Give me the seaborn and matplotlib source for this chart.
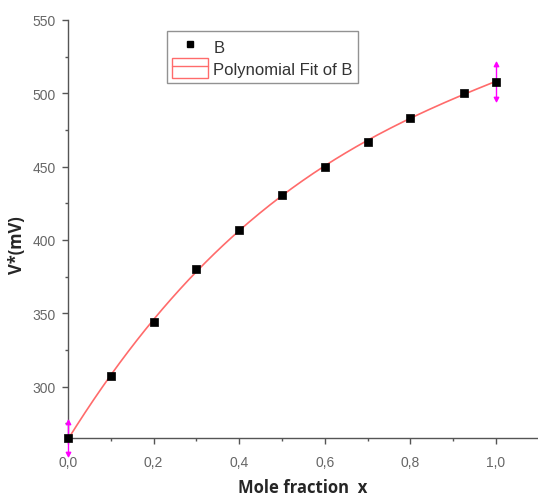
import matplotlib
matplotlib.use("Agg")
import matplotlib.pyplot as plt
import numpy as np
import pandas as pd
import seaborn as sns
from matplotlib.lines import Line2D
from matplotlib.patches import Patch
from matplotlib.ticker import MultipleLocator, FuncFormatter

# data
mole_fraction = [0.0, 0.1, 0.2, 0.3, 0.4, 0.5, 0.6, 0.7, 0.8, 0.925, 1.0]
potential_mv = [265, 307, 344, 380, 407, 431, 450, 467, 483, 500, 508]
err_x = [0.0, 1.0]
err_y = [265, 508]
err_half = [11, 12]

sns.set_theme(style="white")
plt.rcParams["font.family"] = ["Liberation Sans", "DejaVu Sans"]

df = pd.DataFrame({"x": mole_fraction, "V": potential_mv})

# polynomial fit of B
coef = np.polyfit(df["x"], df["V"], 3)
fit_x = np.linspace(0, 1, 200)
fit_df = pd.DataFrame({"x": fit_x, "V": np.polyval(coef, fit_x)})

fig = plt.figure(figsize=(5.38, 5.02), dpi=100)
ax = fig.add_axes([68 / 538, 63 / 502, 470 / 538, 418 / 502])

red = "#ff6b6b"
sns.lineplot(data=fit_df, x="x", y="V", ax=ax, color=red, lw=1.2, zorder=2)
sns.scatterplot(data=df, x="x", y="V", ax=ax, marker="s", s=34, color="black",
                edgecolor="black", linewidth=0.5, zorder=4, clip_on=False)

# magenta error bars with arrow heads
ax.errorbar(err_x, err_y, yerr=err_half, fmt="none", ecolor="magenta", elinewidth=1,
            capsize=0, zorder=3, clip_on=False)
ax.scatter(err_x, np.array(err_y) + np.array(err_half), marker="^", s=10, color="magenta",
           zorder=3, clip_on=False)
ax.scatter(err_x, np.array(err_y) - np.array(err_half), marker="v", s=10, color="magenta",
           zorder=3, clip_on=False)

ax.set_xlim(0, 1.098)
ax.set_ylim(265, 550)

gray = "#555555"
for side in ["top", "right"]:
    ax.spines[side].set_visible(False)
for side in ["left", "bottom"]:
    ax.spines[side].set_color(gray)
    ax.spines[side].set_linewidth(1.0)

ax.xaxis.set_major_locator(MultipleLocator(0.2))
ax.xaxis.set_minor_locator(MultipleLocator(0.1))
ax.yaxis.set_major_locator(MultipleLocator(50))
ax.yaxis.set_minor_locator(MultipleLocator(25))
ax.xaxis.set_major_formatter(FuncFormatter(lambda v, p: f"{v:.1f}".replace(".", ",")))
ax.tick_params(which="major", direction="out", length=4, width=1, color=gray,
               labelsize=10, labelcolor="#666666", bottom=True, left=True)
ax.tick_params(axis="x", which="major", pad=8)
ax.tick_params(axis="y", which="major", pad=5)
ax.tick_params(which="minor", direction="out", length=2.5, width=1, color=gray,
               bottom=True, left=True)

ax.set_xlabel("Mole fraction  x", fontsize=12, fontweight="bold",
              family=["Open Sans", "DejaVu Sans"])
ax.xaxis.set_label_coords(0.5, -0.095)
ax.set_ylabel("V*(mV)", fontsize=12, fontweight="bold",
              family=["Open Sans", "DejaVu Sans"])
ax.yaxis.set_label_coords(-0.09, 0.464)

handles = [
    Line2D([], [], marker="s", color="black", lw=0, markersize=5),
    (Patch(facecolor="none", edgecolor=red, lw=1), Line2D([], [], color=red, lw=1)),
]
leg = ax.legend(handles, ["B", "Polynomial Fit of B"], loc="upper left",
                bbox_to_anchor=(0.21, 0.974), fontsize=12, frameon=True, fancybox=False,
                edgecolor="#777777", handlelength=2.2, handleheight=1.5,
                borderpad=0.3, labelspacing=0.1, handletextpad=0.3, borderaxespad=0)
leg.get_frame().set_linewidth(1.0)
for t in leg.get_texts():
    t.set_color("#333333")

fig.savefig("out.png", dpi=100)
